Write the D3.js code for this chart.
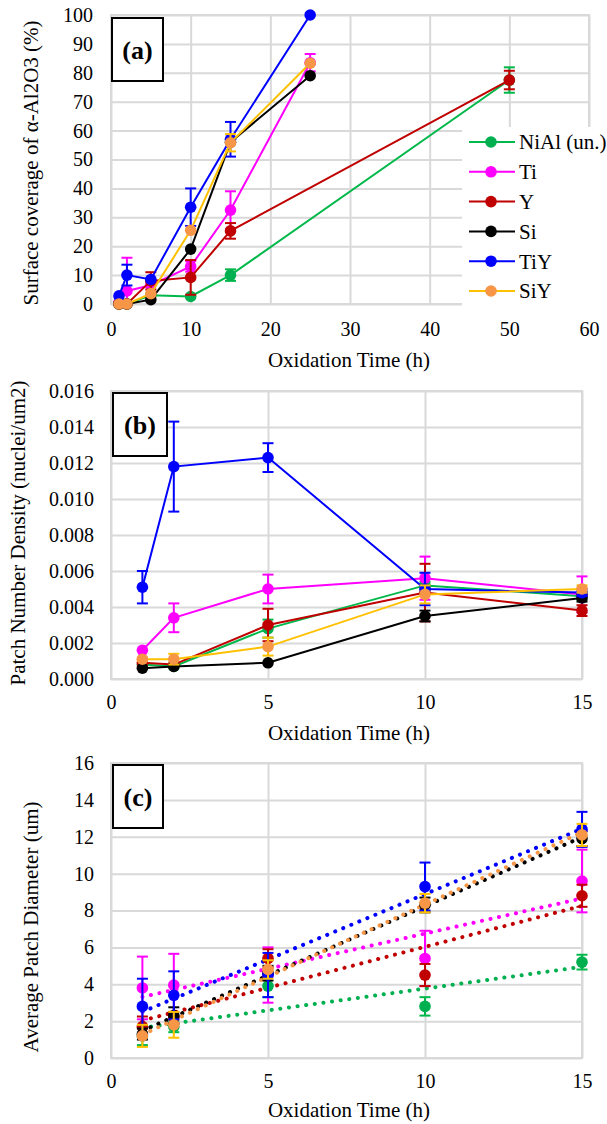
<!DOCTYPE html>
<html>
<head>
<meta charset="utf-8">
<script src="https://cdn.jsdelivr.net/npm/d3@7"></script>
<style>
  html, body { margin: 0; padding: 0; background: #fff; }
  svg { display: block; }
  svg text { font-family: "Liberation Serif", "Times New Roman", "DejaVu Serif", serif; }
</style>
</head>
<body>
<svg id="chart" width="607" height="1124"></svg>
<script>
// ---------------- DATA ----------------
const seriesNames = ["NiAl (un.)", "Ti", "Y", "Si", "TiY", "SiY"];

// Panel (a): surface coverage of alpha-Al2O3 (%)
const timeA = [1, 2, 5, 10, 15, 25, 50];
const coverageNiAl = [0, 0, 3, 2.6, 10, null, 77.5];
const coverageTi   = [0.5, 4.5, 6.5, 13, 32.5, 83.5, null];
const coverageY    = [0, 0, 8, 9.2, 25.3, null, 77.5];
const coverageSi   = [0, 0, 1.5, 19, 56, 79, null];
const coverageTiY  = [2.8, 10, 8.5, 33.5, 57, 100, null];
const coverageSiY  = [0, 0, 3.6, 25.5, 55.8, 83.3, null];
const coverageErrNiAl = [0, 0, 0, 0, 2, null, 4.4];
const coverageErrTi   = [0, 11.5, 0, 1.8, 6.5, 3, null];
const coverageErrY    = [0, 0, 3, 6, 2.7, null, 3.2];
const coverageErrSi   = [0, 0, 0, 0, 0, 0, null];
const coverageErrTiY  = [0, 3.6, 0, 6.5, 6, 0, null];
const coverageErrSiY  = [0, 0, 0, 0, 3, 0, null];

// Panel (b): patch number density (nuclei/um2)
const timeB = [1, 2, 5, 10, 15];
const densityNiAl = [0.0008, 0.0007, 0.0028, 0.0052, 0.0046];
const densityTi   = [0.0016, 0.0034, 0.0050, 0.0056, 0.0047];
const densityY    = [0.0009, 0.0008, 0.0030, 0.0048, 0.0038];
const densitySi   = [0.0006, 0.0007, 0.0009, 0.0035, 0.0045];
const densityTiY  = [0.0051, 0.0118, 0.0123, 0.0050, 0.0048];
const densitySiY  = [0.0011, 0.0011, 0.0018, 0.0047, 0.0050];
const densityErrNiAl = [0, 0, 0.0005, 0.0002, 0.0002];
const densityErrTi   = [0, 0.0008, 0.0008, 0.0012, 0.0010];
const densityErrY    = [0.0002, 0, 0.0009, 0.0016, 0.0003];
const densityErrSi   = [0, 0, 0, 0.0003, 0.0002];
const densityErrTiY  = [0.0009, 0.0025, 0.0008, 0.0009, 0.0002];
const densityErrSiY  = [0.0001, 0.0003, 0.0005, 0.0005, 0.0002];

// Panel (c): average patch diameter (um)
const timeC = [1, 2, 5, 10, 15];
const diameterNiAl = [1.2, 1.7, 3.9, 2.8, 5.2];
const diameterTi   = [3.8, 3.95, 4.5, 5.4, 9.6];
const diameterY    = [1.7, 2.2, 5.4, 4.5, 8.8];
const diameterSi   = [1.3, 2.3, 4.6, 8.3, 11.9];
const diameterTiY  = [2.8, 3.4, 4.5, 9.3, 12.4];
const diameterSiY  = [1.2, 1.8, 4.8, 8.4, 12.1];
const diameterErrNiAl = [0.5, 0.3, 0.6, 0.5, 0.4];
const diameterErrTi   = [1.7, 1.7, 1.5, 1.5, 1.7];
const diameterErrY    = [0.55, 0.3, 0.5, 0.6, 0.6];
const diameterErrSi   = [0.3, 0.45, 0.4, 0.4, 0.4];
const diameterErrTiY  = [1.5, 1.3, 1.2, 1.3, 0.95];
const diameterErrSiY  = [0.6, 0.7, 0.5, 0.5, 0.6];

// Ticks
const ticksAx = [0, 10, 20, 30, 40, 50, 60];
const ticksAy = [0, 10, 20, 30, 40, 50, 60, 70, 80, 90, 100];
const ticksBx = [0, 5, 10, 15];
const ticksBy = [0, 0.002, 0.004, 0.006, 0.008, 0.010, 0.012, 0.014, 0.016];
const ticksCx = [0, 5, 10, 15];
const ticksCy = [0, 2, 4, 6, 8, 10, 12, 14, 16];

// ---------------- STYLE ----------------
const lineColors   = ["#00B84A", "#FF00FF", "#C00000", "#000000", "#0000FF", "#FFC000"];
const markerColors = ["#00B050", "#FF00FF", "#C00000", "#000000", "#0000FF", "#F79646"];
const FONT = '"Liberation Serif", "Times New Roman", "DejaVu Serif", serif';
const FS = 20;      // tick labels
const FT = 21;      // titles & legend
const GRID = "#D9D9D9";

const svg = d3.select("#chart");
svg.append("rect").attr("width", 607).attr("height", 1124).attr("fill", "#fff");

function drawFrame(cfg) {
  const { x, y, xt, yt, yfmt, xpad, ypad } = cfg;
  const [x0, x1] = x.range();
  const [yb, ytop] = y.range();
  const g = svg.append("g");
  const ya = d3.axisLeft(y).tickValues(yt).tickSize(-(x1 - x0)).tickPadding(ypad).tickFormat(yfmt);
  const gy = g.append("g").attr("transform", `translate(${x0},0)`).call(ya);
  const xa = d3.axisBottom(x).tickValues(xt).tickSize(-(yb - ytop)).tickPadding(xpad).tickFormat(d3.format("d"));
  const gx = g.append("g").attr("transform", `translate(0,${yb})`).call(xa);
  [gx, gy].forEach(a => {
    a.attr("font-family", null).attr("font-size", null);
    a.select(".domain").remove();
    a.selectAll(".tick line").attr("stroke", GRID).attr("stroke-width", 2);
    a.selectAll(".tick text").style("font-family", FONT).style("font-size", FS + "px").attr("fill", "#000");
  });
  g.append("rect").attr("x", x0).attr("y", ytop).attr("width", x1 - x0).attr("height", yb - ytop)
    .attr("fill", "none").attr("stroke", GRID).attr("stroke-width", 2);
  return g;
}

function drawSeries(g, x, y, xs, ys, errs, i, opts) {
  const pts = xs.map((t, k) => ({ t, v: ys[k], e: errs[k] })).filter(p => p.v !== null);
  if (opts.line) {
    const ln = d3.line().x(p => x(p.t)).y(p => y(p.v));
    g.append("path").attr("d", ln(pts)).attr("fill", "none")
      .attr("stroke", lineColors[i]).attr("stroke-width", 2);
  }
  const eb = g.append("g").attr("stroke", lineColors[i]).attr("stroke-width", 2);
  pts.filter(p => p.e > 0).forEach(p => {
    const cx = x(p.t), ylo = y(Math.max(p.v - p.e, y.domain()[0])), yhi = y(p.v + p.e);
    eb.append("line").attr("x1", cx).attr("x2", cx).attr("y1", ylo).attr("y2", yhi);
    eb.append("line").attr("x1", cx - 5.5).attr("x2", cx + 5.5).attr("y1", yhi).attr("y2", yhi);
    if (p.v - p.e >= y.domain()[0])
      eb.append("line").attr("x1", cx - 5.5).attr("x2", cx + 5.5).attr("y1", ylo).attr("y2", ylo);
  });
  g.append("g").selectAll("circle").data(pts).join("circle")
    .attr("cx", p => x(p.t)).attr("cy", p => y(p.v)).attr("r", 5.8)
    .attr("fill", markerColors[i]);
}

function label(text, cx, cy, rot) {
  svg.append("text").attr("transform", `translate(${cx},${cy})` + (rot ? " rotate(-90)" : ""))
    .attr("text-anchor", "middle").attr("dy", "0.35em")
    .style("font-family", FONT).style("font-size", FT + "px").attr("fill", "#000").text(text);
}

function panelTag(text, x0, y0, w, h) {
  svg.append("rect").attr("x", x0).attr("y", y0).attr("width", w).attr("height", h)
    .attr("fill", "#fff").attr("stroke", "#000").attr("stroke-width", 2);
  svg.append("text").attr("x", x0 + w / 2).attr("y", y0 + h / 2).attr("dy", "0.35em")
    .attr("text-anchor", "middle").style("font-family", FONT).style("font-weight", "bold")
    .style("font-size", "26px").text(text);
}

// ---------------- PANEL (a) ----------------
{
  const x = d3.scaleLinear().domain([0, 60]).range([111, 589]);
  const y = d3.scaleLinear().domain([0, 100]).range([304, 15]);
  const g = drawFrame({ x, y, xt: ticksAx, yt: ticksAy, yfmt: d3.format("d"), xpad: 18, ypad: 18 });
  const vals = [coverageNiAl, coverageTi, coverageY, coverageSi, coverageTiY, coverageSiY];
  const errs = [coverageErrNiAl, coverageErrTi, coverageErrY, coverageErrSi, coverageErrTiY, coverageErrSiY];
  vals.forEach((v, i) => drawSeries(g, x, y, timeA, v, errs[i], i, { line: true }));
  label("Surface coverage of α-Al2O3 (%)", 31, 163, true);
  label("Oxidation Time (h)", 349, 360, false);
  panelTag("(a)", 112, 18, 51, 63);
  const lg = svg.append("g");
  lg.append("rect").attr("x", 462).attr("y", 127).attr("width", 140).attr("height", 179).attr("fill", "#fff");
  seriesNames.forEach((n, i) => {
    const yy = 142 + i * 29.8;
    lg.append("line").attr("x1", 469).attr("x2", 515).attr("y1", yy).attr("y2", yy)
      .attr("stroke", lineColors[i]).attr("stroke-width", 2);
    lg.append("circle").attr("cx", 491).attr("cy", yy).attr("r", 5.8).attr("fill", markerColors[i]);
    lg.append("text").attr("x", 519).attr("y", yy).attr("dy", "0.35em")
      .style("font-family", FONT).style("font-size", FT + "px").text(n);
  });
}

// ---------------- PANEL (b) ----------------
{
  const x = d3.scaleLinear().domain([0, 15]).range([111, 582]);
  const y = d3.scaleLinear().domain([0, 0.016]).range([679, 391]);
  const g = drawFrame({ x, y, xt: ticksBx, yt: ticksBy, yfmt: d3.format(".3f"), xpad: 16, ypad: 17 });
  const vals = [densityNiAl, densityTi, densityY, densitySi, densityTiY, densitySiY];
  const errs = [densityErrNiAl, densityErrTi, densityErrY, densityErrSi, densityErrTiY, densityErrSiY];
  vals.forEach((v, i) => drawSeries(g, x, y, timeB, v, errs[i], i, { line: true }));
  label("Patch Number Density (nuclei/um2)", 18, 533, true);
  label("Oxidation Time (h)", 349, 733, false);
  panelTag("(b)", 113, 393, 54, 63);
}

// ---------------- PANEL (c) ----------------
{
  const x = d3.scaleLinear().domain([0, 15]).range([111, 582]);
  const y = d3.scaleLinear().domain([0, 16]).range([1058, 763]);
  const g = drawFrame({ x, y, xt: ticksCx, yt: ticksCy, yfmt: d3.format("d"), xpad: 16, ypad: 17 });
  const vals = [diameterNiAl, diameterTi, diameterY, diameterSi, diameterTiY, diameterSiY];
  const errs = [diameterErrNiAl, diameterErrTi, diameterErrY, diameterErrSi, diameterErrTiY, diameterErrSiY];
  const tg = g.append("g");
  vals.forEach((v, i) => {
    const mx = d3.mean(timeC), my = d3.mean(v);
    const sxy = d3.sum(timeC, (t, k) => (t - mx) * (v[k] - my));
    const sxx = d3.sum(timeC, t => (t - mx) * (t - mx));
    const b = sxy / sxx, a = my - b * mx;
    const t0 = d3.min(timeC), t1 = d3.max(timeC);
    tg.append("line").attr("x1", x(t0)).attr("x2", x(t1)).attr("y1", y(a + b * t0)).attr("y2", y(a + b * t1))
      .attr("stroke", markerColors[i]).attr("stroke-width", 4).attr("stroke-linecap", "round")
      .attr("stroke-dasharray", "0.1 8.6");
  });
  vals.forEach((v, i) => drawSeries(g, x, y, timeC, v, errs[i], i, { line: false }));
  label("Average Patch Diameter (um)", 31, 927, true);
  label("Oxidation Time (h)", 349, 1110, false);
  panelTag("(c)", 113, 765, 50, 63);
}
</script>
</body>
</html>
